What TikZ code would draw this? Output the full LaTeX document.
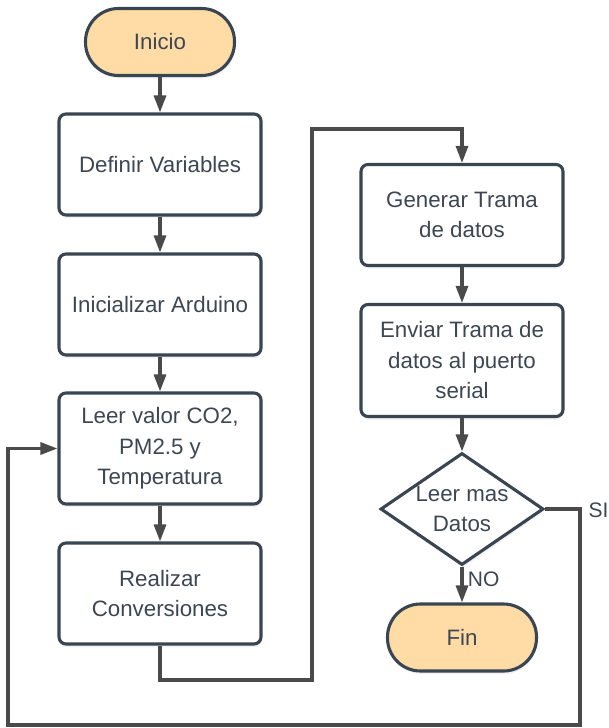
\documentclass[tikz,border=0pt]{standalone}
\usepackage{fontspec}
\setmainfont{Liberation Sans}
\usepackage{tikz}
\usetikzlibrary{arrows.meta, shapes.geometric, shadows}
\definecolor{borde}{HTML}{3A4552}
\definecolor{naranja}{HTML}{FFDBA6}
\definecolor{flecha}{HTML}{4A4A4A}
\definecolor{texto}{HTML}{3D4753}

\tikzset{
  base/.style = {draw=borde, line width=3.1pt, text=texto, align=center,
                 font=\fontsize{22.3}{30.5}\selectfont,
                 drop shadow={opacity=0.12, shadow xshift=1pt, shadow yshift=-3pt}},
  terminal/.style = {base, fill=naranja, rounded corners=33pt,
                     minimum width=149pt, minimum height=67pt},
  proceso/.style = {base, fill=white, rounded corners=7pt,
                    minimum width=202pt, minimum height=101pt},
  decision/.style = {base, fill=white, diamond, aspect=1.43, inner sep=-8pt,
                     minimum width=163pt, minimum height=112pt},
  flujo/.style = {draw=flecha, line width=3.1pt,
                  -{Triangle[length=17pt, width=12pt]}},
  etiqueta/.style = {text=texto, font=\fontsize{21}{24}\selectfont}
}

\begin{document}
\begin{tikzpicture}[x=1pt, y=-1pt]
  \useasboundingbox (0,0) rectangle (608,728);

  % columna izquierda
  \node[terminal] (inicio) at (160,42) {Inicio};
  \node[proceso] (definir) at (160,164.5) {Definir Variables};
  \node[proceso] (inicializar) at (160,304.5) {Inicializar Arduino};
  \node[proceso, minimum height=111pt] (leer) at (160,448.5) {Leer valor CO2,\\PM2.5 y\\Temperatura};
  \node[proceso] (realizar) at (160,593.5) {Realizar\\Conversiones};

  % columna derecha
  \node[proceso] (generar) at (462,215) {Generar Trama\\de datos};
  \node[proceso, minimum height=112pt] (enviar) at (462,360.5) {Enviar Trama de\\datos al puerto\\serial};
  \node[decision] (mas) at (462,509) {Leer mas\\Datos};
  \node[terminal] (fin) at (462,637.5) {Fin};

  \coordinate (c1) at (160,680);
  \coordinate (c2) at (312,680);
  \coordinate (c3) at (312,129);
  \coordinate (c4) at (462,129);
  \coordinate (s1) at (580,509);
  \coordinate (s2) at (580,725);
  \coordinate (s3) at (8,725);
  \coordinate (s4) at (8,448.5);

  \draw[flujo] (inicio) -- (definir);
  \draw[flujo] (definir) -- (inicializar);
  \draw[flujo] (inicializar) -- (leer);
  \draw[flujo] (leer) -- (realizar);
  \draw[flujo] (realizar.south) -- (c1) -- (c2) -- (c3) -- (c4) -- (generar.north);
  \draw[flujo] (generar) -- (enviar);
  \draw[flujo] (enviar) -- (mas);
  \draw[flujo] (mas) -- (fin) node[etiqueta, pos=0.35, right=1pt] (no) {NO};
  \draw[flujo] (mas.east) -- (s1) -- (s2) -- (s3) -- (s4) -- (leer.west);
  \node[etiqueta, anchor=west] (si) at (585,510) {SI};
\end{tikzpicture}
\end{document}
